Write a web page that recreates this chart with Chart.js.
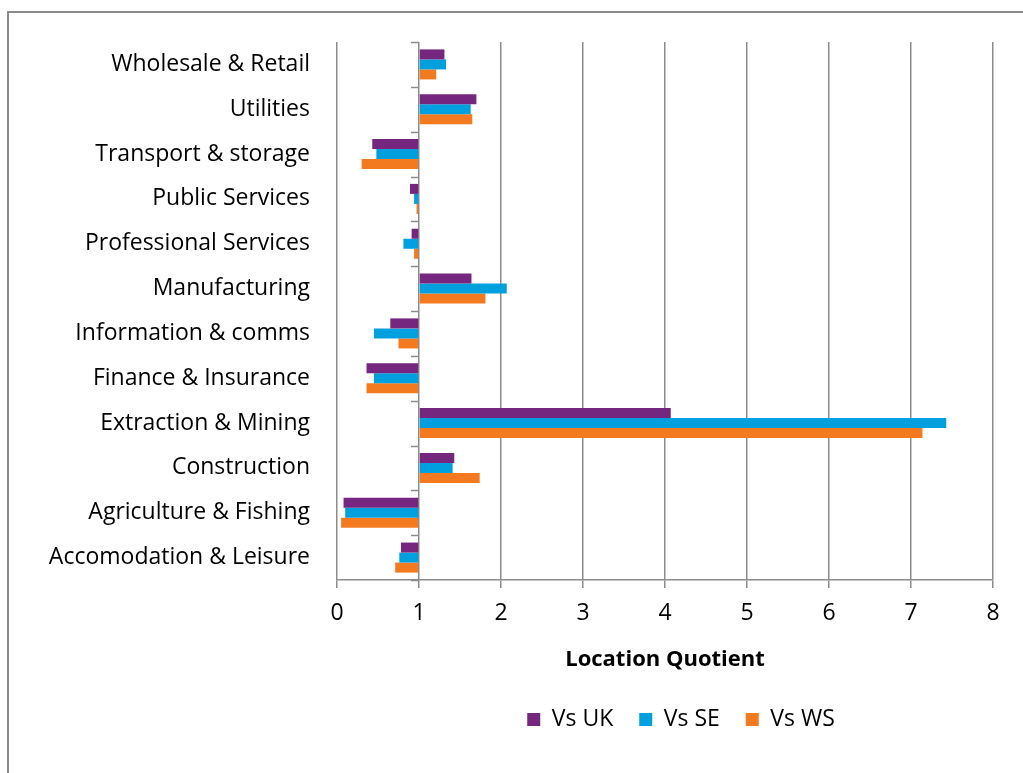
<!DOCTYPE html>
<html>
<head>
<meta charset="utf-8">
<script src="https://cdn.jsdelivr.net/npm/chart.js@4.4.1/dist/chart.umd.min.js"></script>
<style>
  html, body { margin: 0; padding: 0; background: #fff; overflow: hidden; }
  #frame { position: absolute; left: 7px; top: 11px; width: 1030px; height: 780px; border: 2px solid #8a8a8a; box-sizing: border-box; }
  #wrap { position: absolute; left: 0; top: 0; width: 1023px; height: 773px; }
</style>
</head>
<body>
<div id="frame"></div>
<div id="wrap"><canvas id="lqChart"></canvas></div>
<script>
// sectors, top to bottom as in the picture
const sectors = [
  'Wholesale & Retail', 'Utilities', 'Transport & storage', 'Public Services',
  'Professional Services', 'Manufacturing', 'Information & comms', 'Finance & Insurance',
  'Extraction & Mining', 'Construction', 'Agriculture & Fishing', 'Accomodation & Leisure',
]
const vsUK = [1.31, 1.70, 0.43, 0.89, 0.91, 1.64, 0.65, 0.36, 4.07, 1.43, 0.08, 0.78]
const vsSE = [1.33, 1.63, 0.48, 0.94, 0.81, 2.07, 0.45, 0.45, 7.43, 1.41, 0.10, 0.76]
const vsWS = [1.21, 1.65, 0.30, 0.97, 0.94, 1.81, 0.75, 0.36, 7.14, 1.74, 0.05, 0.71]
const xTicks = [0, 1, 2, 3, 4, 5, 6, 7, 8]

const FONT = '"Open Sans", Calibri, sans-serif'
const GRID = '#8c8c8c'

// little tick marks on the category axis, which crosses at 1
const catTicks = {
  id: 'catTicks',
  afterLayout(chart) {
    // nudge the legend a bit to the right, like the original
    chart.legend.left += 16
    chart.legend.right += 16
  },
  afterDatasetsDraw(chart) {
    const { ctx, scales: { x, y } } = chart
    const x1 = x.getPixelForValue(1)
    ctx.save()
    ctx.strokeStyle = GRID
    ctx.lineWidth = 1.5
    for (let i = 0; i <= sectors.length; i++) {
      const py = Math.round(y.getPixelForValue(i - 0.5)) + 0.5
      ctx.beginPath()
      ctx.moveTo(x1 - 8, py)
      ctx.lineTo(x1, py)
      ctx.stroke()
    }
    ctx.restore()
  },
}

const ctx = document.getElementById('lqChart').getContext('2d')
const lqChart = new Chart(ctx, {
  type: 'bar',
  data: {
    labels: sectors,
    datasets: [
      { label: 'Vs UK', data: vsUK, backgroundColor: '#75267f', base: 1 },
      { label: 'Vs SE', data: vsSE, backgroundColor: '#00a0de', base: 1 },
      { label: 'Vs WS', data: vsWS, backgroundColor: '#f47a20', base: 1 },
    ],
  },
  options: {
    indexAxis: 'y',
    responsive: true,
    maintainAspectRatio: false,
    animation: false,
    layout: { padding: { top: 42, right: 30, bottom: 32, left: 0 } },
    datasets: { bar: { barPercentage: 1, categoryPercentage: 0.67, borderWidth: 0 } },
    scales: {
      x: {
        min: 0,
        max: 8,
        afterBuildTicks: (s) => { s.ticks = xTicks.map((v) => ({ value: v })) },
        afterFit: (s) => { s.height = 102 },
        grid: { color: GRID, lineWidth: 1.5, tickLength: 8, tickColor: GRID },
        border: { display: true, color: GRID, width: 1.5 },
        ticks: { color: '#000', font: { family: FONT, size: 23 }, padding: 12 },
        title: {
          display: true,
          text: 'Location Quotient',
          color: '#000',
          font: { family: FONT, size: 22, weight: 'bold' },
          padding: { top: 0, bottom: 9 },
        },
      },
      y: {
        afterFit: (s) => { s.width = 337 },
        grid: { display: false, drawTicks: false },
        border: { display: false },
        ticks: { color: '#000', font: { family: FONT, size: 23 }, padding: 27, autoSkip: false },
      },
    },
    plugins: {
      legend: {
        position: 'bottom',
        fullSize: false,
        labels: {
          color: '#000',
          font: { family: FONT, size: 23 },
          boxWidth: 13,
          boxHeight: 13,
          padding: 26,
        },
      },
      tooltip: { enabled: false },
    },
  },
  plugins: [catTicks],
})
</script>
</body>
</html>
